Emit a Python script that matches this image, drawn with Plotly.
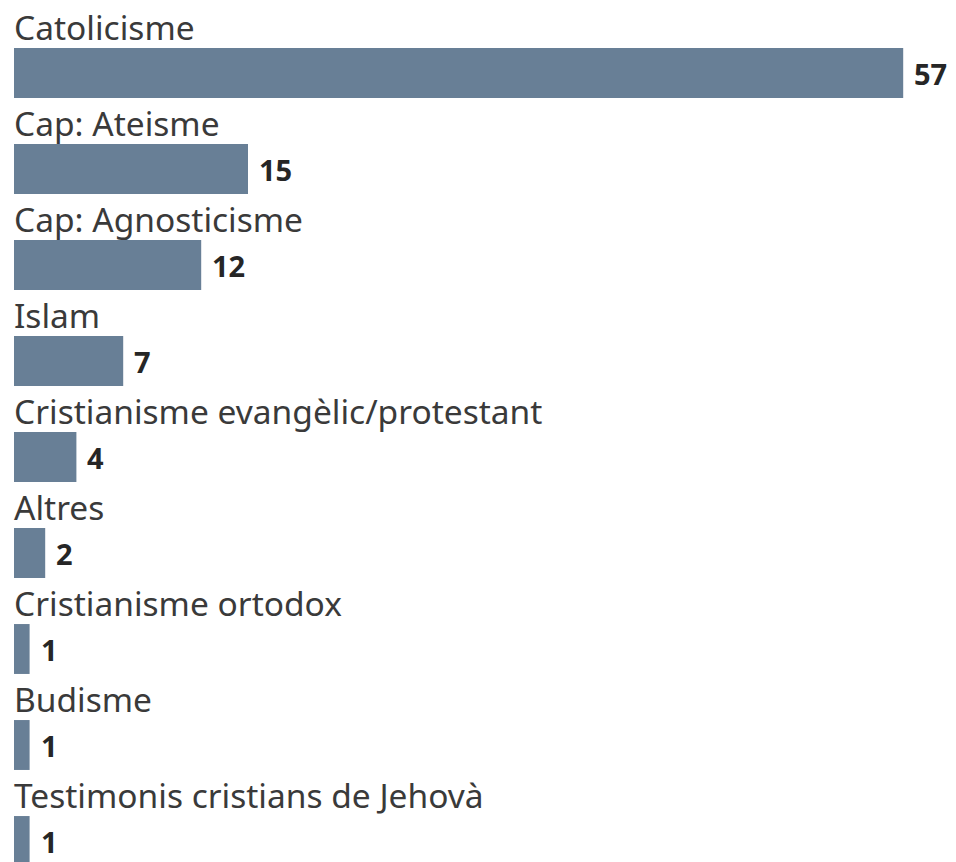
import plotly.graph_objects as go

categories = ["Catolicisme", "Cap: Ateisme", "Cap: Agnosticisme", "Islam",
              "Cristianisme evangèlic/protestant", "Altres", "Cristianisme ortodox",
              "Budisme", "Testimonis cristians de Jehovà"]
values = [57, 15, 12, 7, 4, 2, 1, 1, 1]

bar_color = "#687f96"
font_family = "'Noto Sans', 'Open Sans', sans-serif"

# the page body has an 8px margin, so the figure is a bit smaller
W, H = 948, 854
x0 = 6          # pixel of value 0
px_unit = 15.6  # pixels per unit
y0 = 65         # pixel of first bar centre
step = 96       # pixels between bars

fig = go.Figure()

fig.add_trace(go.Bar(y=categories,
                     x=values,
                     orientation='h',
                     width=0.52,
                     marker=dict(color=bar_color, line=dict(width=0)),
                     hoverinfo='skip'))

# category label above each bar
for cat in categories:
    fig.add_annotation(x=0, y=cat, xref='x', yref='y',
                       text=cat, showarrow=False,
                       xanchor='left', yanchor='bottom',
                       yshift=21, xshift=-2,
                       font=dict(family=font_family, size=33.5, color='#3a3a3a'))

# value to the right of each bar
for cat, v in zip(categories, values):
    fig.add_annotation(x=v, y=cat, xref='x', yref='y',
                       text='<b>%d</b>' % v, showarrow=False,
                       xanchor='left', yanchor='middle',
                       xshift=9,
                       font=dict(family=font_family, size=29, color='#262626'))

fig.update_layout(template='plotly_white',
                  width=W, height=H,
                  margin=dict(l=0, r=0, t=0, b=0),
                  showlegend=False,
                  paper_bgcolor='white', plot_bgcolor='white')

fig.update_xaxes(range=[-x0 / px_unit, (W - x0) / px_unit],
                 visible=False, showgrid=False, zeroline=False)
fig.update_yaxes(categoryorder='array', categoryarray=categories,
                 range=[(H - y0) / step, -y0 / step],
                 visible=False, showgrid=False, zeroline=False)

fig.write_html("out.html")
